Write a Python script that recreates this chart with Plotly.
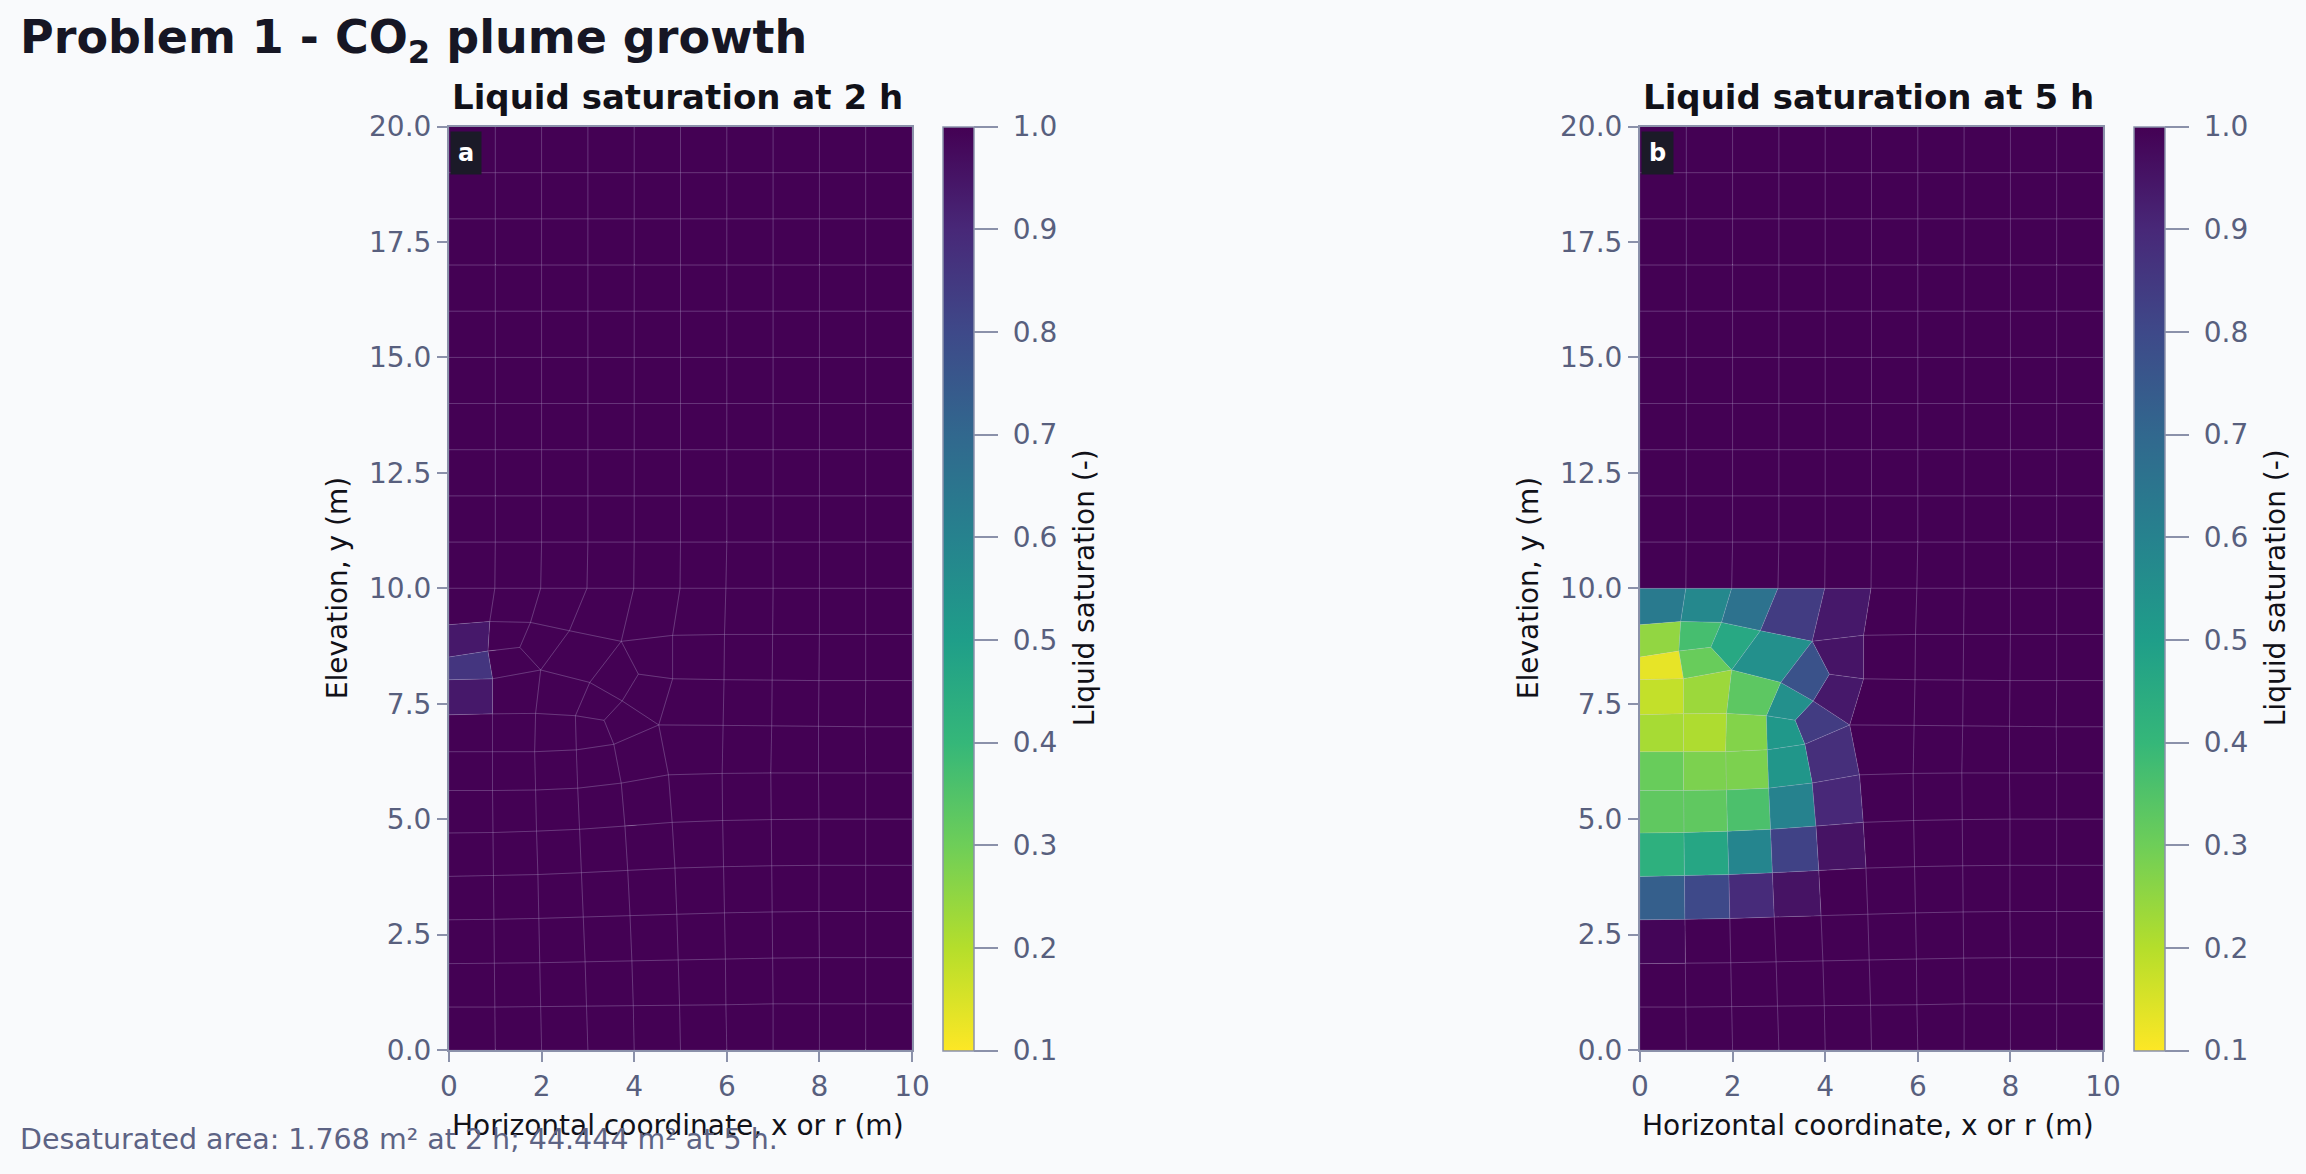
import plotly.graph_objects as go
from plotly.colors import sample_colorscale, get_colorscale

# ------------------------------------------------------------------ data
# regular upper part of the mesh (y from 10 to 20)
TOP_ROW_X = [0, 0.99, 1.98, 2.98, 3.99, 4.99, 5.98, 7, 8, 9, 10]
COLUMN_X = [0, 1, 2, 3, 4, 5, 6, 7, 8, 9, 10]
UPPER_ROW_Y = [10, 11, 12, 13, 14, 15, 16, 17, 18, 19, 20]

# lower structured part (rows from y=0 up to the curved line near y=6)
LOWER_X = [
    [0, 1.00, 2.00, 3.00, 4.00, 5.00, 6.00, 7.00, 8.00, 9, 10],
    [0, 0.99, 1.98, 2.97, 3.98, 4.98, 5.98, 7.00, 8.00, 9, 10],
    [0, 0.98, 1.96, 2.94, 3.95, 4.95, 5.97, 6.99, 8.00, 9, 10],
    [0, 0.97, 1.94, 2.90, 3.91, 4.92, 5.95, 6.98, 7.99, 9, 10],
    [0, 0.96, 1.92, 2.86, 3.86, 4.88, 5.93, 6.97, 7.99, 9, 10],
    [0, 0.95, 1.89, 2.82, 3.80, 4.82, 5.91, 6.96, 7.99, 9, 10],
    [0, 0.94, 1.87, 2.78, 3.72, 4.74, 5.90, 6.95, 7.98, 9, 10],
]
LOWER_Y = [
    [0.00, 0.00, 0.00, 0.00, 0.00, 0.00, 0.00, 0.00, 0, 0, 0],
    [0.93, 0.93, 0.94, 0.95, 0.96, 0.97, 0.98, 1.00, 1, 1, 1],
    [1.87, 1.88, 1.89, 1.91, 1.93, 1.95, 1.97, 1.99, 2, 2, 2],
    [2.82, 2.83, 2.85, 2.88, 2.91, 2.94, 2.97, 2.99, 3, 3, 3],
    [3.76, 3.78, 3.80, 3.84, 3.89, 3.94, 3.97, 3.99, 4, 4, 4],
    [4.70, 4.71, 4.74, 4.78, 4.85, 4.93, 4.97, 4.99, 5, 5, 5],
    [5.62, 5.62, 5.63, 5.67, 5.78, 5.96, 5.99, 6.00, 6, 6, 6],
]

# middle-right block (columns 5..10, rows 7, 8, 9)
MID_RIGHT_X = [
    [4.53, 5.92, 6.97, 7.98, 8.99, 10],
    [4.83, 5.94, 6.98, 7.99, 9.00, 10],
    [4.83, 5.95, 6.99, 8.00, 9.00, 10],
]
MID_RIGHT_Y = [
    [7.04, 7.03, 7.02, 7.01, 7, 7],
    [8.04, 8.02, 8.01, 8.00, 8, 8],
    [8.98, 9.00, 9.00, 9.00, 9, 9],
]

# irregular transition nodes (x, y)
IRREG_NAMES = ["A", "B", "C", "D", "E", "H", "I", "J", "K", "L", "M", "P", "Q",
               "R", "S", "T", "U", "V", "W", "Z", "b0", "b1", "b2", "b3"]
IRREG_X = [0, 0.88, 1.76, 2.60, 3.72, 0, 0.84, 1.53, 1.98, 3.04, 4.09, 0, 0.94,
           3.74, 0, 0.94, 1.87, 2.73, 3.35, 3.56, 0, 0.94, 1.85, 2.75]
IRREG_Y = [9.21, 9.28, 9.26, 9.08, 8.85, 8.51, 8.64, 8.72, 8.23, 7.96, 8.14, 8.02, 8.04,
           7.56, 7.26, 7.28, 7.29, 7.24, 7.14, 6.62, 6.46, 6.46, 6.46, 6.50]

IRREG_CELLS = [
    ("t0", "t1", "B", "A"), ("t1", "t2", "C", "B"), ("t2", "t3", "D", "C"),
    ("t3", "t4", "E", "D"), ("t4", "t5", "F", "E"),
    ("A", "B", "I", "H"), ("B", "C", "J", "I"), ("C", "D", "K", "J"),
    ("D", "E", "L", "K"), ("E", "F", "N", "M"),
    ("H", "I", "Q", "P"), ("I", "J", "K", "Q"), ("E", "M", "R", "L"),
    ("M", "N", "X", "R"),
    ("P", "Q", "T", "S"), ("Q", "K", "U", "T"), ("K", "L", "V", "U"),
    ("L", "R", "W", "V"), ("R", "X", "Z", "W"),
    ("S", "T", "b1", "b0"), ("T", "U", "b2", "b1"), ("U", "V", "b3", "b2"),
    ("V", "W", "Z", "b3"), ("Z", "X", "a5", "a4"),
    ("b0", "b1", "a1", "a0"), ("b1", "b2", "a2", "a1"), ("b2", "b3", "a3", "a2"),
    ("b3", "Z", "a4", "a3"),
]

# liquid saturation per cell, panel a (2 h) and panel b (5 h)
IRREG_SAT_A = [1.0, 1.0, 1.0, 1.0, 1.0,
               0.94, 1.0, 1.0, 1.0, 1.0,
               0.86, 1.0, 1.0, 1.0,
               0.94, 1.0, 1.0, 1.0, 1.0,
               1.0, 1.0, 1.0, 1.0, 1.0,
               1.0, 1.0, 1.0, 1.0]
IRREG_SAT_B = [0.63, 0.58, 0.66, 0.84, 0.94,
               0.25, 0.37, 0.46, 0.55, 0.95,
               0.13, 0.31, 0.77, 0.94,
               0.18, 0.235, 0.33, 0.55, 0.84,
               0.22, 0.21, 0.27, 0.52, 0.88,
               0.31, 0.28, 0.28, 0.53]

LOWER_SAT_A = [[1.0] * 10 for _ in range(6)]
LOWER_SAT_B = [
    [1.0, 1.0, 1.0, 1.0, 1.0, 1.0, 1.0, 1.0, 1.0, 1.0],
    [1.0, 1.0, 1.0, 1.0, 1.0, 1.0, 1.0, 1.0, 1.0, 1.0],
    [0.99, 1.0, 1.0, 1.0, 1.0, 1.0, 1.0, 1.0, 1.0, 1.0],
    [0.73, 0.80, 0.89, 0.955, 1.0, 1.0, 1.0, 1.0, 1.0, 1.0],
    [0.43, 0.47, 0.59, 0.82, 0.955, 1.0, 1.0, 1.0, 1.0, 1.0],
    [0.325, 0.325, 0.36, 0.60, 0.90, 1.0, 1.0, 1.0, 1.0, 1.0],
]
MID_RIGHT_SAT_A = [[1.0] * 5 for _ in range(4)]
MID_RIGHT_SAT_B = [[1.0] * 5 for _ in range(4)]
UPPER_SAT_A = [[1.0] * 10 for _ in range(10)]
UPPER_SAT_B = [[1.0] * 10 for _ in range(10)]

CB_TICKS = [0.1, 0.2, 0.3, 0.4, 0.5, 0.6, 0.7, 0.8, 0.9, 1.0]
X_TICKS = [0, 2, 4, 6, 8, 10]
Y_TICKS = [0, 2.5, 5, 7.5, 10, 12.5, 15, 17.5, 20]
SAT_MIN, SAT_MAX = 0.1, 1.0

PANELS = [
    ("a", "Liquid saturation at 2 h", IRREG_SAT_A, LOWER_SAT_A, MID_RIGHT_SAT_A, UPPER_SAT_A),
    ("b", "Liquid saturation at 5 h", IRREG_SAT_B, LOWER_SAT_B, MID_RIGHT_SAT_B, UPPER_SAT_B),
]

# ------------------------------------------------------------------ style
W, H = 2306, 1174
BG = "#f9fafc"
AXIS_COL = "#8b91aa"
TICK_COL = "#585f7e"
TEXT_COL = "#111118"
MESH_LINE = "rgba(200,190,225,0.2)"
FONT = "DejaVu Sans"
X_DOMAINS = [(449 / W, 912 / W), (1640 / W, 2103 / W)]
CB_X = [943 / W, 2134 / W]
Y_DOMAIN = (1 - 1050 / H, 1 - 126.5 / H)

COLORSCALE = get_colorscale("Viridis_r")


def sat_color(v):
    p = (v - SAT_MIN) / (SAT_MAX - SAT_MIN)
    p = min(max(p, 0.0), 1.0)
    return sample_colorscale(COLORSCALE, [p])[0]


# ------------------------------------------------------------------ mesh nodes
nodes = {}
for j in range(6):
    nodes[f"t{j}"] = (TOP_ROW_X[j], UPPER_ROW_Y[0])
    nodes[f"a{j}"] = (LOWER_X[6][j], LOWER_Y[6][j])
for n, x, y in zip(IRREG_NAMES, IRREG_X, IRREG_Y):
    nodes[n] = (x, y)
nodes["X"] = (MID_RIGHT_X[0][0], MID_RIGHT_Y[0][0])
nodes["N"] = (MID_RIGHT_X[1][0], MID_RIGHT_Y[1][0])
nodes["F"] = (MID_RIGHT_X[2][0], MID_RIGHT_Y[2][0])


def build_cells(irreg_sat, lower_sat, mid_sat, upper_sat):
    cells = []  # list of (polygon list of (x,y), value)
    for quad, v in zip(IRREG_CELLS, irreg_sat):
        cells.append(([nodes[q] for q in quad], v))
    for i in range(6):
        for j in range(10):
            poly = [(LOWER_X[i][j], LOWER_Y[i][j]), (LOWER_X[i][j + 1], LOWER_Y[i][j + 1]),
                    (LOWER_X[i + 1][j + 1], LOWER_Y[i + 1][j + 1]), (LOWER_X[i + 1][j], LOWER_Y[i + 1][j])]
            cells.append((poly, lower_sat[i][j]))
    rows = [[(LOWER_X[6][5 + k], LOWER_Y[6][5 + k]) for k in range(6)]]
    for r in range(3):
        rows.append([(MID_RIGHT_X[r][k], MID_RIGHT_Y[r][k]) for k in range(6)])
    rows.append([(TOP_ROW_X[5 + k], UPPER_ROW_Y[0]) for k in range(6)])
    for i in range(4):
        for j in range(5):
            poly = [rows[i][j], rows[i][j + 1], rows[i + 1][j + 1], rows[i + 1][j]]
            cells.append((poly, mid_sat[i][j]))
    for i in range(10):
        xb = TOP_ROW_X if i == 0 else COLUMN_X
        for j in range(10):
            poly = [(xb[j], UPPER_ROW_Y[i]), (xb[j + 1], UPPER_ROW_Y[i]),
                    (COLUMN_X[j + 1], UPPER_ROW_Y[i + 1]), (COLUMN_X[j], UPPER_ROW_Y[i + 1])]
            cells.append((poly, upper_sat[i][j]))
    return cells


fig = go.Figure()
annotations = []
NB = "\u00a0"

for k, (label, title, irr, low, mid, up) in enumerate(PANELS):
    xa = "x" if k == 0 else "x2"
    ya = "y" if k == 0 else "y2"
    cells = build_cells(irr, low, mid, up)
    groups = {}
    for poly, v in cells:
        c = sat_color(v)
        g = groups.setdefault(c, ([], []))
        for (px, py) in poly + [poly[0]]:
            g[0].append(px)
            g[1].append(py)
        g[0].append(None)
        g[1].append(None)
    for c, (gx, gy) in groups.items():
        fig.add_trace(go.Scatter(
            x=gx, y=gy, mode="lines", fill="toself", fillcolor=c,
            line=dict(color=MESH_LINE, width=0.8), hoverinfo="skip",
            showlegend=False, xaxis=xa, yaxis=ya))
    cx = [sum(p[0] for p in poly) / 4 for poly, v in cells]
    cy = [sum(p[1] for p in poly) / 4 for poly, v in cells]
    cv = [v for poly, v in cells]
    fig.add_trace(go.Scatter(
        x=cx, y=cy, mode="markers", hoverinfo="skip", showlegend=False,
        xaxis=xa, yaxis=ya,
        marker=dict(size=1, opacity=0, color=cv, colorscale=COLORSCALE,
                    cmin=SAT_MIN, cmax=SAT_MAX, showscale=True,
                    colorbar=dict(
                        x=CB_X[k], xanchor="left", y=Y_DOMAIN[1], yanchor="top",
                        len=Y_DOMAIN[1] - Y_DOMAIN[0], lenmode="fraction",
                        thickness=31, thicknessmode="pixels", xpad=0, ypad=0,
                        outlinecolor=AXIS_COL, outlinewidth=1.5,
                        tickvals=CB_TICKS, ticktext=[f"{NB}{t:.1f}" for t in CB_TICKS],
                        ticks="outside", ticklen=24, tickwidth=1.5, tickcolor=AXIS_COL,
                        tickfont=dict(family=FONT, size=28, color=TICK_COL),
                    ))))

    axis_common = dict(showline=True, linecolor=AXIS_COL, linewidth=2, mirror=True,
                       ticks="outside", ticklen=10, tickwidth=2, tickcolor=AXIS_COL,
                       tickfont=dict(family=FONT, size=28, color=TICK_COL),
                       showgrid=False, zeroline=False, automargin=False)
    fig.layout[f"xaxis{'' if k == 0 else '2'}"] = dict(
        domain=list(X_DOMAINS[k]), range=[0, 10], tickvals=X_TICKS,
        anchor=ya, **axis_common)
    fig.layout[f"yaxis{'' if k == 0 else '2'}"] = dict(
        domain=list(Y_DOMAIN), range=[0, 20], tickvals=Y_TICKS, tickformat=".1f",
        anchor=xa, **axis_common)

    xc = (X_DOMAINS[k][0] + X_DOMAINS[k][1]) / 2
    annotations += [
        dict(text=f"<b>{title}</b>", x=xc - 3 / W, y=1 - 97 / H, xref="paper", yref="paper",
             xanchor="center", yanchor="middle", showarrow=False,
             font=dict(family=FONT, size=34, color=TEXT_COL)),
        dict(text="Horizontal coordinate, x or r (m)", x=xc - 3 / W, y=1 - 1125 / H,
             xref="paper", yref="paper", xanchor="center", yanchor="middle",
             showarrow=False, font=dict(family=FONT, size=28, color=TEXT_COL)),
        dict(text="Elevation, y (m)", x=(X_DOMAINS[k][0] * W - 112) / W, y=sum(Y_DOMAIN) / 2,
             xref="paper", yref="paper", xanchor="center", yanchor="middle",
             textangle=-90, showarrow=False, font=dict(family=FONT, size=28, color=TEXT_COL)),
        dict(text="Liquid saturation (-)", x=(CB_X[k] * W + 141) / W, y=sum(Y_DOMAIN) / 2,
             xref="paper", yref="paper", xanchor="center", yanchor="middle",
             textangle=-90, showarrow=False, font=dict(family=FONT, size=28, color=TEXT_COL)),
        dict(text=f"<b>{label}</b>", x=X_DOMAINS[k][0] + 1 / W, y=1 - 131 / H,
             xref="paper", yref="paper", xanchor="left", yanchor="top",
             showarrow=False, bgcolor="#1b1a28", borderpad=7,
             font=dict(family=FONT, size=24, color="#ffffff")),
    ]

annotations += [
    dict(text="<b>Problem 1 - CO<sub>2</sub> plume growth</b>", x=18 / W, y=1 - 40 / H,
         xref="paper", yref="paper", xanchor="left", yanchor="middle", showarrow=False,
         font=dict(family=FONT, size=46, color="#161624")),
    dict(text="Desaturated area: 1.768 m² at 2 h; 44.444 m² at 5 h.", x=18 / W,
         y=1 - 1139 / H, xref="paper", yref="paper", xanchor="left", yanchor="middle",
         showarrow=False, font=dict(family=FONT, size=28.5, color="#5d6384")),
]

fig.update_layout(
    width=W, height=H, template="none",
    paper_bgcolor=BG, plot_bgcolor=BG,
    margin=dict(l=0, r=0, t=0, b=0),
    annotations=annotations, showlegend=False,
    font=dict(family=FONT),
)

fig.write_html("out.html")
